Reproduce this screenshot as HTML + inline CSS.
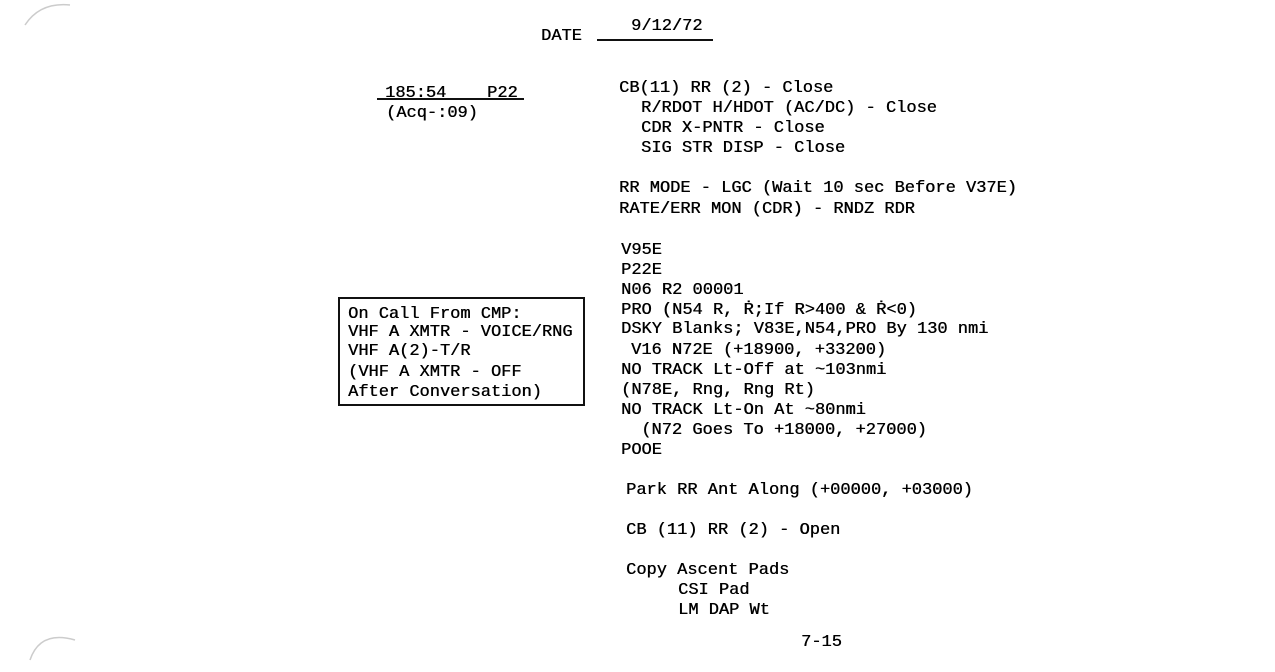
<!DOCTYPE html>
<html><head><meta charset="utf-8"><style>
html,body{margin:0;padding:0;background:#fff;}
body{width:1275px;height:672px;position:relative;overflow:hidden;font-family:"Liberation Mono",monospace;font-size:17px;color:#000;}
.t{position:absolute;line-height:20px;height:20px;white-space:pre;text-shadow:0.4px 0 0 #000;}
.box{position:absolute;left:338px;top:297px;width:243px;height:105px;border:2px solid #111;}
.ul{position:absolute;height:2px;background:#111;}
</style></head><body>
<svg width="1275" height="672" style="position:absolute;left:0;top:0">
<path d="M25 25 Q40 2 70 5" stroke="#ccc" fill="none" stroke-width="1.5"/>
<path d="M30 660 Q40 630 75 640" stroke="#ccc" fill="none" stroke-width="1.5"/>
</svg>
<div class="t" style="left:541px;top:27px">DATE</div>
<div class="t" style="left:631px;top:17px">9/12/72</div>
<div class="ul" style="left:597px;top:39px;width:116px"></div>

<div class="t" style="left:385px;top:84px">185:54    P22</div>
<div class="ul" style="left:377px;top:98px;width:147px"></div>
<div class="t" style="left:386px;top:104px">(Acq-:09)</div>

<div class="t" style="left:619px;top:79px">CB(11) RR (2) - Close</div>
<div class="t" style="left:641px;top:99px">R/RDOT H/HDOT (AC/DC) - Close</div>
<div class="t" style="left:641px;top:119px">CDR X-PNTR - Close</div>
<div class="t" style="left:641px;top:139px">SIG STR DISP - Close</div>
<div class="t" style="left:619px;top:179px">RR MODE - LGC (Wait 10 sec Before V37E)</div>
<div class="t" style="left:619px;top:200px">RATE/ERR MON (CDR) - RNDZ RDR</div>
<div class="t" style="left:621px;top:241px">V95E</div>
<div class="t" style="left:621px;top:261px">P22E</div>
<div class="t" style="left:621px;top:281px">N06 R2 00001</div>
<div class="t" style="left:621px;top:301px">PRO (N54 R, Ṙ;If R>400 &amp; Ṙ&lt;0)</div>
<div class="t" style="left:621px;top:320px">DSKY Blanks; V83E,N54,PRO By 130 nmi</div>
<div class="t" style="left:631px;top:341px">V16 N72E (+18900, +33200)</div>
<div class="t" style="left:621px;top:361px">NO TRACK Lt-Off at ~103nmi</div>
<div class="t" style="left:621px;top:381px">(N78E, Rng, Rng Rt)</div>
<div class="t" style="left:621px;top:401px">NO TRACK Lt-On At ~80nmi</div>
<div class="t" style="left:631px;top:421px"> (N72 Goes To +18000, +27000)</div>
<div class="t" style="left:621px;top:441px">POOE</div>
<div class="t" style="left:626px;top:481px">Park RR Ant Along (+00000, +03000)</div>
<div class="t" style="left:626px;top:521px">CB (11) RR (2) - Open</div>
<div class="t" style="left:626px;top:561px">Copy Ascent Pads</div>
<div class="t" style="left:678px;top:581px">CSI Pad</div>
<div class="t" style="left:678px;top:601px">LM DAP Wt</div>
<div class="t" style="left:801px;top:633px">7-15</div>

<div class="box"></div>
<div class="t" style="left:348px;top:305px">On Call From CMP:</div>
<div class="t" style="left:348px;top:323px">VHF A XMTR - VOICE/RNG</div>
<div class="t" style="left:348px;top:342px">VHF A(2)-T/R</div>
<div class="t" style="left:348px;top:363px">(VHF A XMTR - OFF</div>
<div class="t" style="left:348px;top:383px">After Conversation)</div>
</body></html>
